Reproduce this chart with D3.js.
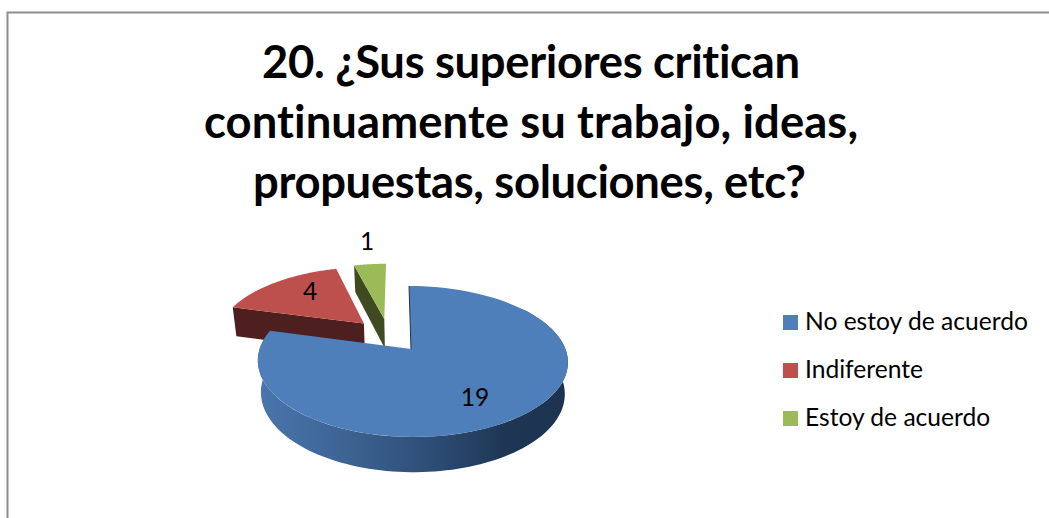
<!DOCTYPE html>
<html><head><meta charset="utf-8"><script src="https://cdn.jsdelivr.net/npm/d3@7/dist/d3.min.js"></script>
<style>html,body{margin:0;padding:0;background:#fff}svg{display:block}text{font-family:Lato,"Open Sans",sans-serif;fill:#000;font-variant-ligatures:none}</style></head>
<body><svg id="c" width="1049" height="518"></svg>
<script>
const titleLines = ["20. ¿Sus superiores critican","continuamente su trabajo, ideas,","propuestas, soluciones, etc?"];
const categories = ["No estoy de acuerdo","Indiferente","Estoy de acuerdo"];
const values = [19,4,1];
const topColors = ["#4f7fbb","#bd4f4c","#9bbb59"];
const wallColors = ["#1d3350","#4d1f1e","#3f4a20"];
const labelPos = [[475,397],[310,291],[367,241]];

const svg = d3.select("#c");
// frame
svg.append("path").attr("d","M7.5,518V12.5H1049").attr("fill","none").attr("stroke","#8e8e8e").attr("stroke-width",2);

// title
const titleWidths=[538,654,553];
svg.selectAll(".t").data(titleLines).join("text").attr("class","t")
  .attr("x",(d,i)=>[531,531,529.5][i]).attr("y",(d,i)=>77.5+i*60).attr("text-anchor","middle")
  .attr("font-size",45.4).attr("font-weight",700)
  .attr("textLength",(d,i)=>titleWidths[i]).attr("lengthAdjust","spacing").text(d=>d);

// perspective projection of the pie plane
const ax=411, ay=349, W=152.9, H=73.4, p=.1656, shear=-2.3, explode=.245;
const project=(u,v)=>{const k=1+p*v;return [ax+1.5*Math.min(u*u,1)+(W*u+shear*v)/k, ay-H*v/k];};
const base=(u,v)=>{const q=project(u,v);return [ax+3+(q[0]-ax-3)*.98, q[1]+31/(1+.12*v)];};
const arcs=d3.pie().sort(null).value(d=>d)(values);
const line=d3.line();
const mid0=(arcs[0].startAngle+arcs[0].endAngle)/2;
const cx=-explode*Math.sin(mid0), cy=-explode*Math.cos(mid0);
const geo=arcs.map(a=>{
  const m=(a.startAngle+a.endAngle)/2;
  return {a, ox:cx+explode*Math.sin(m), oy:cy+explode*Math.cos(m)};
});
const pt=(g,th,r=1)=>[g.ox+r*Math.sin(th), g.oy+r*Math.cos(th)];
const steps=(t0,t1,n=90)=>d3.range(n+1).map(i=>t0+(t1-t0)*i/n);
const topFace=g=>[pt(g,0,0),...steps(g.a.startAngle,g.a.endAngle).map(t=>pt(g,t))].map(q=>project(q[0],q[1]));
const wall=(g,th)=>{const o=pt(g,0,0),e=pt(g,th);
  return [project(...o),project(...e),base(...e),base(...o)];};

// gradient for the blue rim
const defs=svg.append("defs");
const grad=defs.append("linearGradient").attr("id","rim").attr("gradientUnits","userSpaceOnUse")
  .attr("x1",258).attr("x2",568).attr("y1",0).attr("y2",0);
[[0,"#4a76ae"],[.3,"#3c6291"],[.55,"#2e4e76"],[.8,"#1e3654"],[1,"#1c3250"]].forEach(s=>
  grad.append("stop").attr("offset",s[0]).attr("stop-color",s[1]));

// red
svg.append("path").attr("d",line(wall(geo[1],arcs[1].startAngle))+"Z").attr("fill",wallColors[1]);
svg.append("path").attr("d",line(topFace(geo[1]))+"Z").attr("fill",topColors[1]);
// green
svg.append("path").attr("d",line(wall(geo[2],arcs[2].startAngle))+"Z").attr("fill",wallColors[2]);
svg.append("path").attr("d",line(topFace(geo[2]))+"Z").attr("fill",topColors[2]);
// blue rim
const rimT=steps(Math.PI*.3,arcs[0].endAngle,120);
const rim=[...rimT.map(t=>project(...pt(geo[0],t))),...rimT.slice().reverse().map(t=>base(...pt(geo[0],t)))];
svg.append("path").attr("d",line(rim)+"Z").attr("fill","url(#rim)");
// blue top
svg.append("path").attr("d",line(topFace(geo[0]))+"Z").attr("fill",topColors[0]);
svg.append("path").attr("d",line([project(...pt(geo[0],0,0)),project(...pt(geo[0],arcs[0].startAngle))]))
  .attr("stroke",wallColors[0]).attr("stroke-width",1).attr("fill","none");

// value labels
svg.selectAll(".v").data(values).join("text").attr("class","v")
  .attr("x",(d,i)=>labelPos[i][0]).attr("y",(d,i)=>labelPos[i][1]+8.5).attr("text-anchor","middle")
  .attr("font-size",24.5).text(d=>d);

// legend
const ly=d3.scalePoint().domain(categories).range([322.5,418.5]);
svg.selectAll(".lk").data(categories).join("rect").attr("class","lk")
  .attr("x",783).attr("y",d=>ly(d)-7.5).attr("width",15).attr("height",15)
  .attr("fill",(d,i)=>topColors[i]);
svg.selectAll(".lt").data(categories).join("text").attr("class","lt")
  .attr("x",805).attr("y",d=>ly(d)+7.5).attr("font-size",24.6).text(d=>d);
</script></body></html>
